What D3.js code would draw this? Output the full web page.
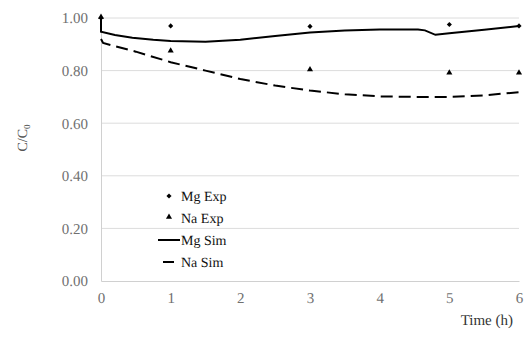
<!DOCTYPE html>
<html>
<head>
<meta charset="utf-8">
<script src="https://cdn.jsdelivr.net/npm/d3@7"></script>
<style>
  html, body { margin: 0; padding: 0; background: #fff; }
  svg { display: block; }
  svg text { text-rendering: geometricPrecision; }
</style>
</head>
<body>
<svg id="chart" width="524" height="341"></svg>
<script>
// Time axis ticks (h) and concentration ratio ticks
const xTicks = [0, 1, 2, 3, 4, 5, 6];
const yTicks = [0, 0.2, 0.4, 0.6, 0.8, 1.0];

// Experimental points
const mgExpT = [0, 1, 3, 5, 6];
const mgExpV = [1.00, 0.970, 0.968, 0.975, 0.970];
const naExpT = [0, 1, 3, 5, 6];
const naExpV = [1.00, 0.872, 0.800, 0.788, 0.788];

// Simulated curves
const mgSimT = [0, 0, 0.2, 0.45, 0.75, 1, 1.5, 2, 2.5, 3, 3.5, 4, 4.55, 4.65, 4.8, 5, 5.5, 6];
const mgSimV = [1.00, 0.948, 0.935, 0.925, 0.917, 0.913, 0.910, 0.917, 0.932, 0.945, 0.952, 0.956, 0.956, 0.953, 0.936, 0.942, 0.955, 0.970];
const naSimT = [0, 0.03, 0.5, 1, 1.5, 2, 2.5, 3, 3.5, 4, 4.5, 5, 5.5, 6];
const naSimV = [0.920, 0.905, 0.872, 0.832, 0.800, 0.768, 0.743, 0.724, 0.710, 0.702, 0.700, 0.700, 0.706, 0.718];

const legendLabels = ["Mg Exp", "Na Exp", "Mg Sim", "Na Sim"];

const FONT = 'Tinos, "Liberation Serif", "Times New Roman", serif';
const svg = d3.select("#chart");
const x = d3.scaleLinear().domain([0, 6]).range([101, 519]);
const y = d3.scaleLinear().domain([0, 1]).range([281, 18]);

// Horizontal gridlines
svg.append("g")
  .selectAll("line")
  .data(yTicks.filter(d => d > 0))
  .join("line")
  .attr("x1", x(0)).attr("x2", x(6))
  .attr("y1", d => y(d)).attr("y2", d => y(d))
  .attr("stroke", "#dcdcdc").attr("stroke-width", 1);

// Y axis
const yAxis = svg.append("g")
  .attr("transform", `translate(${x(0)},0)`)
  .call(d3.axisLeft(y).tickValues(yTicks).tickFormat(d3.format(".2f")).tickSize(0).tickPadding(13))
  .attr("font-family", FONT).attr("font-size", 15);
yAxis.select(".domain").attr("stroke", "#d0d0d0");
yAxis.selectAll("text").attr("fill", "#707070");

// X axis
const xAxis = svg.append("g")
  .attr("transform", `translate(0,${y(0)})`)
  .call(d3.axisBottom(x).tickValues(xTicks).tickFormat(d3.format("d")).tickSize(0).tickPadding(11))
  .attr("font-family", FONT).attr("font-size", 15);
xAxis.select(".domain").attr("stroke", "#d0d0d0");
xAxis.selectAll("text").attr("fill", "#707070");

// Axis titles
const yTitle = svg.append("text")
  .attr("transform", "translate(27,138) rotate(-90)")
  .attr("text-anchor", "middle")
  .attr("font-family", FONT).attr("font-size", 14).attr("fill", "#555");
yTitle.append("tspan").text("C/C");
yTitle.append("tspan").attr("font-size", 9).attr("dy", 3).text("0");

svg.append("text")
  .attr("x", 513).attr("y", 325)
  .attr("text-anchor", "end")
  .attr("font-family", FONT).attr("font-size", 15).attr("fill", "#333")
  .text("Time (h)");

// Simulated lines
const line = d3.line().x(d => x(d[0])).y(d => y(d[1]));
svg.append("path")
  .datum(d3.zip(mgSimT, mgSimV))
  .attr("d", line)
  .attr("fill", "none").attr("stroke", "#000").attr("stroke-width", 2);
svg.append("path")
  .datum(d3.zip(naSimT, naSimV))
  .attr("d", line)
  .attr("fill", "none").attr("stroke", "#000").attr("stroke-width", 2)
  .attr("stroke-dasharray", "12,6");

// Experimental markers
const diamond = d3.symbol().type(d3.symbolSquare).size(13);
const triangle = d3.symbol().type(d3.symbolTriangle).size(16);
svg.append("g").selectAll("path")
  .data(d3.zip(mgExpT, mgExpV))
  .join("path")
  .attr("transform", d => `translate(${x(d[0])},${y(d[1])}) rotate(45)`)
  .attr("d", diamond).attr("fill", "#000");
svg.append("g").selectAll("path")
  .data(d3.zip(naExpT, naExpV))
  .join("path")
  .attr("transform", d => `translate(${x(d[0])},${y(d[1]) - 1})`)
  .attr("d", triangle).attr("fill", "#000");

// Legend
const leg = svg.append("g").attr("font-family", FONT).attr("font-size", 14);
const rowY = i => 196 + i * 22;
leg.selectAll("text")
  .data(legendLabels)
  .join("text")
  .attr("x", 181).attr("y", (d, i) => rowY(i) + 5)
  .attr("fill", "#111")
  .text(d => d);
leg.append("path").attr("transform", `translate(169,${rowY(0)}) rotate(45)`).attr("d", diamond).attr("fill", "#000");
leg.append("path").attr("transform", `translate(169,${rowY(1) - 1})`).attr("d", triangle).attr("fill", "#000");
leg.append("line").attr("x1", 158).attr("x2", 180).attr("y1", rowY(2)).attr("y2", rowY(2))
  .attr("stroke", "#000").attr("stroke-width", 2);
leg.append("line").attr("x1", 163).attr("x2", 174).attr("y1", rowY(3)).attr("y2", rowY(3))
  .attr("stroke", "#000").attr("stroke-width", 2);
</script>
</body>
</html>
